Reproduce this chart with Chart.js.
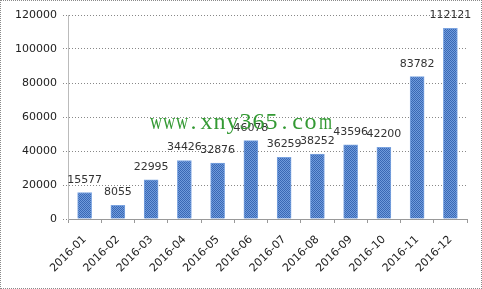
<!DOCTYPE html>
<html>
<head>
<meta charset="utf-8">
<script src="https://cdn.jsdelivr.net/npm/chart.js@4"></script>
<style>
body{margin:0;background:#fff}
#wrap{position:relative;width:482px;height:289px;background:#fff}
#frame{position:absolute;left:0;top:0;width:480px;height:287px;border:1px dotted #8a8a8a;pointer-events:none}
#mark{position:absolute;left:148px;top:106px;font-family:"Liberation Serif",serif;font-size:24px;color:#339933;white-space:nowrap;line-height:30px}
#mark span{display:inline-block;width:13px;text-align:center}
#mark span.wide{transform:scaleX(0.7)}
</style>
</head>
<body>
<div id="wrap">
  <canvas id="myChart" width="482" height="289"></canvas>
  <div id="mark"></div>
  <div id="frame"></div>
</div>
<script>
var months = ['2016-01','2016-02','2016-03','2016-04','2016-05','2016-06','2016-07','2016-08','2016-09','2016-10','2016-11','2016-12']
var sales = [15577, 8055, 22995, 34426, 32876, 46078, 36259, 38252, 43596, 42200, 83782, 112121]
var yTicks = [0, 20000, 40000, 60000, 80000, 100000, 120000]
var watermark = 'www.xny365.com'

// watermark, one char per fixed cell like the original
var mark = document.getElementById('mark')
for (var i = 0; i < watermark.length; i++) {
    var s = document.createElement('span')
    s.textContent = watermark[i]
    if (watermark[i] == 'w' || watermark[i] == 'm') s.className = 'wide'
    mark.appendChild(s)
}

// checkered blue fill for the bars
function hatch(){
    var c = document.createElement('canvas')
    c.width = 2
    c.height = 2
    var g = c.getContext('2d')
    g.fillStyle = '#6f9bdc'
    g.fillRect(0,0,2,2)
    g.fillStyle = '#3a68b4'
    g.fillRect(0,0,1,1)
    g.fillRect(1,1,1,1)
    return g.createPattern(c,'repeat')
}

// value above each bar
var valueLabels = {
    id:'valueLabels',
    afterDatasetsDraw(chart){
        var ctx = chart.ctx
        var meta = chart.getDatasetMeta(0)
        ctx.save()
        ctx.font = '11px "DejaVu Sans"'
        ctx.fillStyle = '#333'
        ctx.textAlign = 'center'
        ctx.textBaseline = 'alphabetic'
        meta.data.forEach(function(bar, i){
            ctx.fillText(String(sales[i]), bar.x, bar.y - 10)
        })
        ctx.restore()
    }
}

var ctx = document.getElementById('myChart').getContext('2d')
var chart1 = new Chart(ctx, {
    type:'bar',
    plugins:[valueLabels],
    data:{
        labels: months,
        datasets:[{
            data: sales,
            backgroundColor: hatch(),
            borderColor: '#7aa3e0',
            borderWidth: 1,
            barThickness: 14
        }]
    },
    options:{
        responsive:false,
        animation:false,
        layout:{padding:{top:15, right:15, left:0, bottom:0}},
        plugins:{
            legend:{display:false},
            tooltip:{enabled:false}
        },
        scales:{
            x:{
                afterFit(s){ s.height = 70 },
                border:{color:'#999'},
                grid:{
                    offset:true,
                    drawOnChartArea:false,
                    drawTicks:true,
                    tickLength:4,
                    color:'#999'
                },
                ticks:{
                    minRotation:45,
                    maxRotation:45,
                    padding:10,
                    color:'#222',
                    font:{family:'DejaVu Sans', size:11}
                }
            },
            y:{
                min:0,
                max:120000,
                afterFit(s){ s.width = 68 },
                afterBuildTicks(s){ s.ticks = yTicks.map(function(v){ return {value:v} }) },
                border:{color:'#bbb', dash:[1,2]},
                grid:{
                    color:'#888',
                    tickLength:5,
                    tickBorderDash:[1,2]
                },
                ticks:{
                    padding:6,
                    color:'#222',
                    font:{family:'DejaVu Sans', size:11},
                    callback:function(v){ return String(v) }
                }
            }
        }
    }
})
</script>
</body>
</html>
